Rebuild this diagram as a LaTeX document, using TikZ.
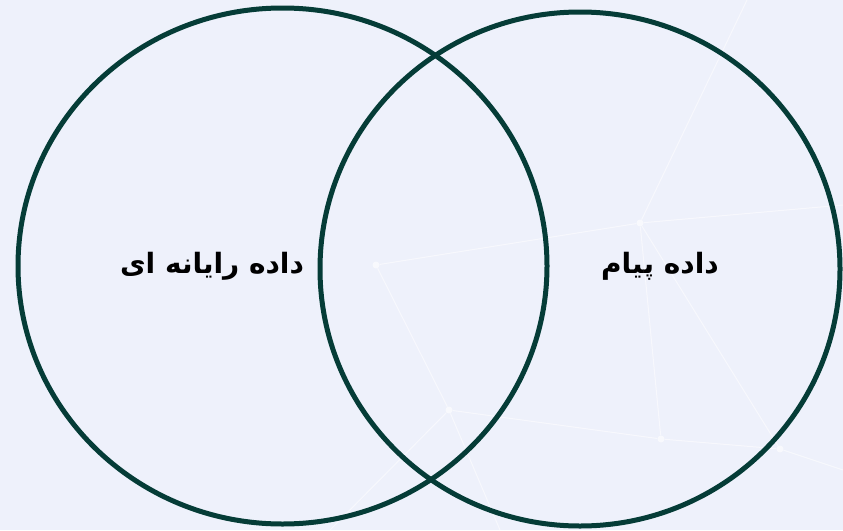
\documentclass[tikz,border=0pt]{standalone}
\usepackage{fontspec}
\usetikzlibrary{shapes.geometric}
\TeXXeTstate=1
\newfontfamily\arabicfont[Script=Arabic]{DejaVu Sans}

\begin{document}
\begin{tikzpicture}[x=1pt,y=-1pt]
    % --- COLOURS ---
    \definecolor{setTeal}{RGB}{5, 60, 55}
    \definecolor{paperBg}{RGB}{238, 241, 251}

    % --- STYLES ---
    \tikzset{
        setEllipse/.style={ellipse, draw=setTeal, line width=5pt, inner sep=0pt},
        setLabel/.style={font=\arabicfont\bfseries\fontsize{28}{34}\selectfont, text=black, inner sep=0pt},
        netLine/.style={draw=white, line width=1pt, opacity=0.55},
        netDot/.style={circle, fill=white, opacity=0.6, inner sep=0pt, minimum size=7pt}
    }

    % --- BACKGROUND ---
    \useasboundingbox[fill=paperBg] (0,0) rectangle (843,530);

    % faint network in the back
    \node[netDot] (p1) at (376,265) {};
    \node[netDot] (p2) at (640,223) {};
    \node[netDot] (p3) at (449,410) {};
    \node[netDot] (p4) at (661,439) {};
    \node[netDot] (p5) at (780,449) {};
    \coordinate (q1) at (843,205);
    \coordinate (q2) at (747,0);
    \coordinate (q3) at (330,530);
    \coordinate (q4) at (500,530);
    \coordinate (q5) at (843,470);
    \draw[netLine] (p1) -- (p2) -- (q1);
    \draw[netLine] (q2) -- (p2) -- (p4) -- (p5) -- (q5);
    \draw[netLine] (p2) -- (p5);
    \draw[netLine] (p1) -- (p3) -- (p4);
    \draw[netLine] (q3) -- (p3) -- (q4);

    % --- SETS ---
    \node[setEllipse, minimum width=529pt, minimum height=516pt] (compData) at (282.5,266) {};
    \node[setEllipse, minimum width=520pt, minimum height=514pt] (msgData) at (580,269) {};

    % --- LABELS ---
    \node[setLabel] (compText) at (212,266) {\beginR داده رایانه ای\endR};
    \node[setLabel] (msgText) at (660,266) {\beginR داده پیام\endR};

\end{tikzpicture}
\end{document}
